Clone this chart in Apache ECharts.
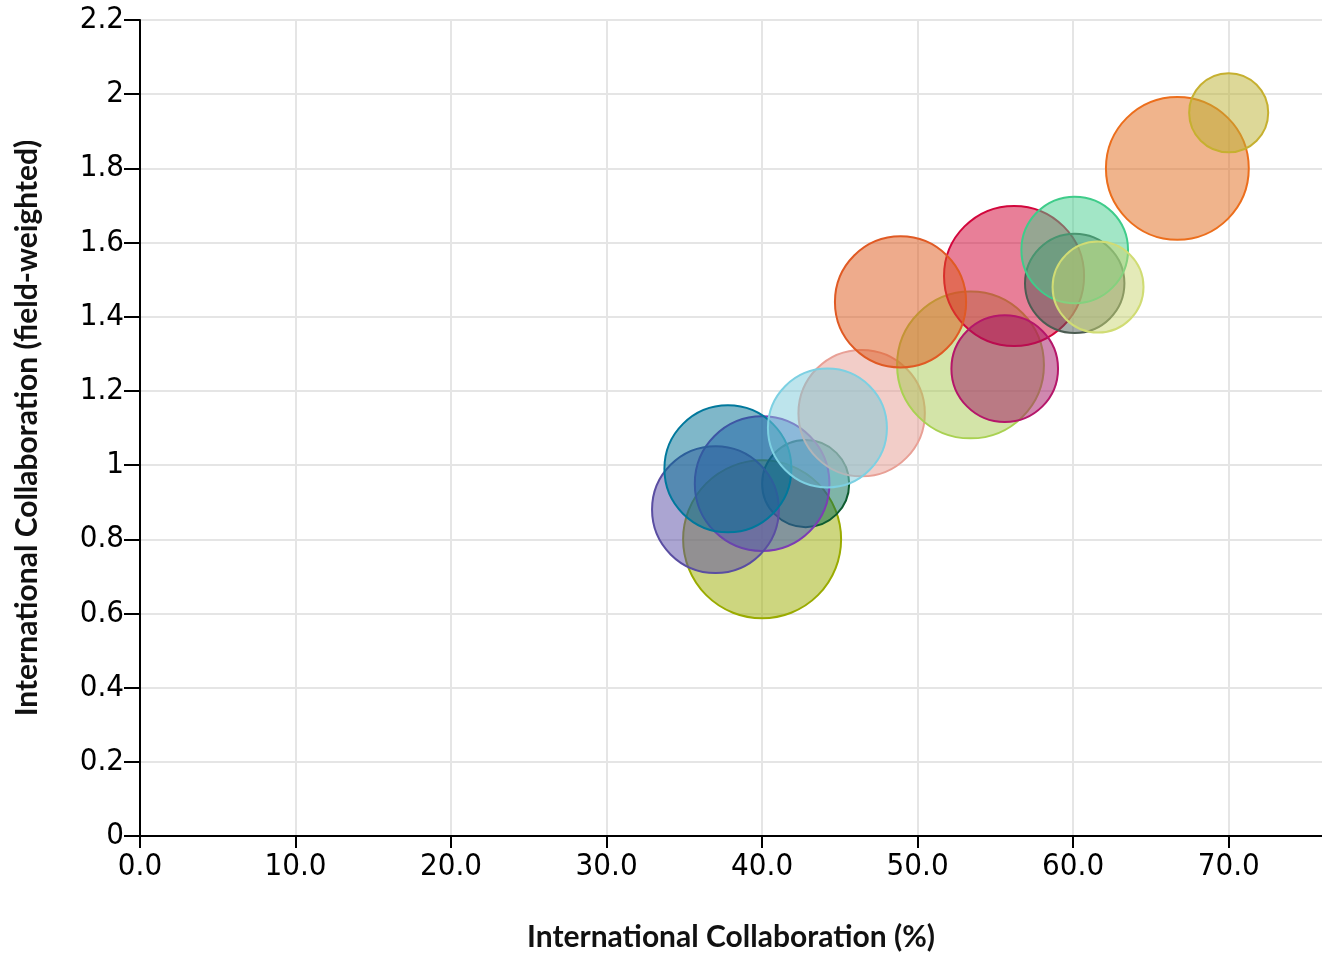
<!DOCTYPE html>
<html>
<head>
<meta charset="utf-8">
<title>International Collaboration</title>
<script src="https://cdn.jsdelivr.net/npm/echarts@6.0.0/dist/echarts.min.js"></script>
<style>
  html, body { margin: 0; padding: 0; background: #fff; }
  #chart { width: 1322px; height: 959px; }
</style>
</head>
<body>
<div id="chart"></div>
<script>
// International Collaboration (%) vs field-weighted, bubble = relative output
var collabPct = [40.0, 42.8, 40.0, 37.0, 37.8, 46.4, 44.2, 53.4, 56.2, 48.9, 55.6, 60.1, 60.1, 61.6, 66.7, 70.0];
var collabFw = [0.80, 0.95, 0.95, 0.88, 0.99, 1.14, 1.10, 1.27, 1.51, 1.44, 1.26, 1.49, 1.58, 1.48, 1.80, 1.95];
var outputSize = [97.5, 29.6, 70.8, 62.8, 63.0, 62.4, 55.3, 84.2, 76.6, 67.2, 44.4, 38.6, 44.4, 32.3, 79.7, 24.4];

var xTicks = [0, 10, 20, 30, 40, 50, 60, 70];
var yTicks = [0, 0.2, 0.4, 0.6, 0.8, 1, 1.2, 1.4, 1.6, 1.8, 2, 2.2];

// stroke / fill per bubble (same order as data)
var strokeColors = ["#9aab00", "#0e5c30", "#7c3db4", "#5a4ea2", "#00789c", "#e8a096", "#7dd0e2", "#a9d152",
  "#d2063c", "#e05a24", "#b5176a", "#4c5c52", "#3fcc8a", "#d0dc74", "#ec6e1c", "#c6b030"];
var fillColors = ["rgba(156,173,0,0.5)", "rgba(0,105,80,0.5)", "rgba(60,85,185,0.5)", "rgba(88,76,166,0.5)",
  "rgba(0,112,148,0.5)", "rgba(229,155,145,0.5)", "rgba(123,201,217,0.5)", "rgba(167,201,81,0.5)",
  "rgba(209,0,49,0.5)", "rgba(221,87,25,0.5)", "rgba(161,17,97,0.5)", "rgba(79,92,85,0.5)",
  "rgba(69,205,141,0.5)", "rgba(201,213,113,0.5)", "rgba(225,105,26,0.5)", "rgba(187,177,49,0.5)"];

var points = collabPct.map(function (x, i) {
  return {
    value: [x, collabFw[i], outputSize[i]],
    itemStyle: { color: fillColors[i], borderColor: strokeColors[i], borderWidth: 2, opacity: 1 }
  };
});

var tickFont = "'Liberation Sans Narrow', 'DejaVu Sans Condensed', sans-serif";
var titleFont = "Lato, 'Noto Sans', sans-serif";

var myChart = echarts.init(document.getElementById("chart"));
myChart.setOption({
  animation: false,
  grid: { left: 140, right: 0, top: 20, bottom: 123 },
  xAxis: {
    type: "value",
    min: xTicks[0],
    max: 76,
    interval: 10,
    name: "International Collaboration (%)",
    nameLocation: "middle",
    nameGap: 86,
    nameTextStyle: { color: "#111", fontFamily: titleFont, fontWeight: "bold", fontSize: 30 },
    axisLine: { lineStyle: { color: "#000", width: 2 } },
    axisTick: { show: true, length: 12, lineStyle: { color: "#000", width: 2 } },
    axisLabel: {
      showMaxLabel: false,
      margin: 15,
      color: "#000",
      fontFamily: tickFont,
      fontSize: 31,
      formatter: function (v) { return xTicks.indexOf(v) >= 0 ? v.toFixed(1) : ""; }
    },
    splitLine: { show: true, showMaxLine: false, lineStyle: { color: "#e5e5e5", width: 2 } }
  },
  yAxis: {
    type: "value",
    min: yTicks[0],
    max: yTicks[yTicks.length - 1],
    interval: 0.2,
    name: "International Collaboration (field-weighted)",
    nameLocation: "middle",
    nameRotate: 90,
    nameGap: 98,
    nameTextStyle: { color: "#111", fontFamily: titleFont, fontWeight: "bold", fontSize: 30 },
    axisLine: { show: true, lineStyle: { color: "#000", width: 2 } },
    axisTick: { show: true, length: 16, lineStyle: { color: "#000", width: 2 } },
    axisLabel: {
      margin: 16,
      color: "#000",
      fontFamily: tickFont,
      fontSize: 31,
      formatter: function (v) { return String(Math.round(v * 10) / 10); }
    },
    splitLine: { show: true, lineStyle: { color: "#e5e5e5", width: 2 } }
  },
  series: [{
    type: "scatter",
    data: points,
    symbolSize: function (d) { return 16 * Math.sqrt(d[2]); },
    emphasis: { disabled: true }
  }]
});
</script>
</body>
</html>
